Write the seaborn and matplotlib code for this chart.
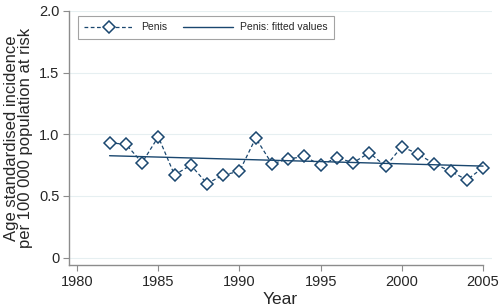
import numpy as np
import pandas as pd
import matplotlib
matplotlib.use("Agg")
import matplotlib.pyplot as plt
import seaborn as sns

years = list(range(1982, 2006))
incidence = [0.93, 0.92, 0.77, 0.98, 0.67, 0.75, 0.60, 0.67, 0.70, 0.97, 0.76,
             0.80, 0.82, 0.75, 0.81, 0.77, 0.85, 0.74, 0.90, 0.84, 0.76, 0.70,
             0.63, 0.73]
x_ticks = [1980, 1985, 1990, 1995, 2000, 2005]
y_ticks = [0, 0.5, 1.0, 1.5, 2.0]
y_ticklabels = ["0", "0.5", "1.0", "1.5", "2.0"]

df = pd.DataFrame({"year": years, "rate": incidence})

navy = "#1a476f"
sns.set_style("white")
plt.rcParams["font.family"] = ["Liberation Sans", "DejaVu Sans"]

fig = plt.figure(figsize=(5, 3.05), dpi=100)
ax = fig.add_axes([69 / 500, 1 - 265 / 305, (492 - 69) / 500, (265 - 11) / 305])

sns.lineplot(data=df, x="year", y="rate", ax=ax, color=navy, lw=0.9,
             linestyle=(0, (3, 2)), marker="D", markersize=6,
             markerfacecolor="white", markeredgecolor=navy, markeredgewidth=1.1,
             label="Penis")
sns.regplot(data=df, x="year", y="rate", ax=ax, scatter=False, ci=None,
            color=navy, label="Penis: fitted values", line_kws={"lw": 1.0})

ax.set_xlim(1979.5, 2005.55)
ax.set_ylim(-0.06, 2.0)
ax.set_xticks(x_ticks)
ax.set_yticks(y_ticks)
ax.set_yticklabels(y_ticklabels)
ax.grid(axis="y", color="#e6eff1", lw=0.8)
ax.set_axisbelow(True)

for s in ["top", "right"]:
    ax.spines[s].set_visible(False)
for s in ["left", "bottom"]:
    ax.spines[s].set_color("#8c8c8c")
    ax.spines[s].set_linewidth(1.0)
ax.spines["bottom"].set_bounds(1979.5, 2005)
ax.tick_params(axis="both", direction="out", length=4, width=0.8, color="#8c8c8c",
               labelsize=10.5, pad=3, left=True, bottom=True)

ax.set_xlabel("Year", fontsize=12.5, labelpad=2)
ax.set_ylabel("Age standardised incidence\nper 100 000 population at risk",
              fontsize=12, labelpad=4, linespacing=0.95)

leg = ax.legend(loc="upper left", ncol=2, fontsize=7.5, frameon=True, fancybox=False,
                edgecolor="#8c8c8c", handlelength=4.8, handletextpad=0.7,
                columnspacing=1.5, bbox_to_anchor=(0.008, 1.0), borderpad=0.6)
leg.get_frame().set_linewidth(0.8)

fig.savefig("out.png", dpi=100)
